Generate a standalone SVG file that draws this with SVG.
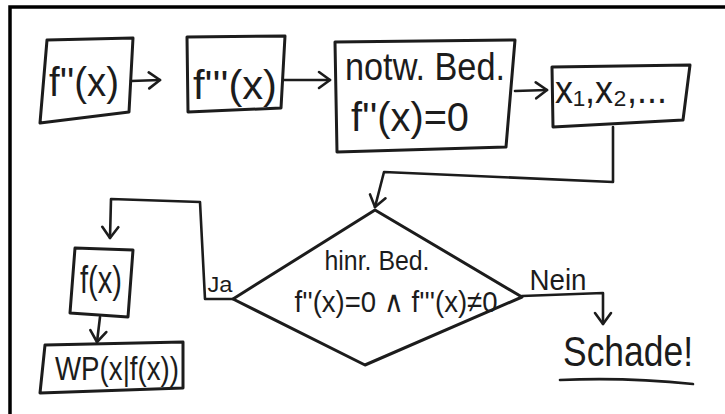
<svg xmlns="http://www.w3.org/2000/svg" width="725" height="414" viewBox="0 0 725 414">
<style>
.box{fill:none;stroke:#1c1c1c;stroke-width:3;stroke-linejoin:round}
.con{fill:none;stroke:#1c1c1c;stroke-width:2.6;stroke-linejoin:round;stroke-linecap:round}
text{font-family:"Liberation Sans","DejaVu Sans",sans-serif;fill:#1c1c1c;text-anchor:middle}
</style>
<defs>
<marker id="arr" viewBox="-13 -10 15 20" markerWidth="15" markerHeight="20" refX="0" refY="0" orient="auto" markerUnits="userSpaceOnUse">
<path d="M-11,-8 L0,0 L-11,8" fill="none" stroke="#1c1c1c" stroke-width="2.6" stroke-linecap="round" stroke-linejoin="round"/>
</marker>
</defs>
<rect width="725" height="414" fill="#ffffff"/>
<path d="M10,414 L10,7 L725,7" fill="none" stroke="#000" stroke-width="3.5"/>

<g id="n1">
<polygon class="box" points="47,40 133,38 129,112 40,123"/>
<text x="84" y="96" font-size="40" textLength="70" lengthAdjust="spacingAndGlyphs">f''(x)</text>
</g>
<g id="n2">
<polygon class="box" points="187,37 285,36 281,108 188,112"/>
<text x="235" y="99" font-size="40" textLength="84" lengthAdjust="spacingAndGlyphs">f'''(x)</text>
</g>
<g id="n3">
<polygon class="box" points="335,42 515,40 506,147 337,152"/>
<text x="425" y="80" font-size="38" textLength="160" lengthAdjust="spacingAndGlyphs">notw. Bed.</text>
<text x="410" y="131" font-size="40" textLength="118" lengthAdjust="spacingAndGlyphs">f''(x)=0</text>
</g>
<g id="n4">
<polygon class="box" points="552,67 690,65 683,120 553,127"/>
<text x="611" y="103" font-size="38" textLength="112" lengthAdjust="spacingAndGlyphs">x₁,x₂,...</text>
</g>
<g id="n5">
<polygon class="box" points="375,210 522,297 365,365 233,299"/>
<text x="377" y="270" font-size="27" textLength="105" lengthAdjust="spacingAndGlyphs">hinr. Bed.</text>
<text x="396" y="312" font-size="30" textLength="203" lengthAdjust="spacingAndGlyphs">f''(x)=0 ∧ f'''(x)≠0</text>
</g>
<g id="n6">
<polygon class="box" points="75,248 133,250 128,317 70,313"/>
<text x="101" y="293" font-size="38" textLength="42" lengthAdjust="spacingAndGlyphs">f(x)</text>
</g>
<g id="n7">
<polygon class="box" points="45,345 183,342 183,388 40,393"/>
<text x="117" y="380" font-size="34" textLength="124" lengthAdjust="spacingAndGlyphs">WP(x|f(x))</text>
</g>
<g id="n8">
<text x="628" y="366" font-size="42" textLength="130" lengthAdjust="spacingAndGlyphs">Schade!</text>
<path class="con" d="M560,380 Q625,377 693,384"/>
</g>

<g id="connectors">
<path class="con" d="M131,81 L160,80" marker-end="url(#arr)"/>
<path class="con" d="M284,80 L330,80" marker-end="url(#arr)"/>
<path class="con" d="M515,91 L547,90" marker-end="url(#arr)"/>
<path class="con" d="M613,127 L613,182 L384,172 L375,207" marker-end="url(#arr)"/>
<path class="con" d="M233,299 L205,299 L200,202 L111,199 L110,238" marker-end="url(#arr)"/>
<path class="con" d="M100,317 L97,342" marker-end="url(#arr)"/>
<path class="con" d="M522,296 L603,293 L603,324" marker-end="url(#arr)"/>
<text x="220" y="292" font-size="22" textLength="25" lengthAdjust="spacingAndGlyphs">Ja</text>
<text x="558" y="290" font-size="30" textLength="57" lengthAdjust="spacingAndGlyphs">Nein</text>
</g>
</svg>
